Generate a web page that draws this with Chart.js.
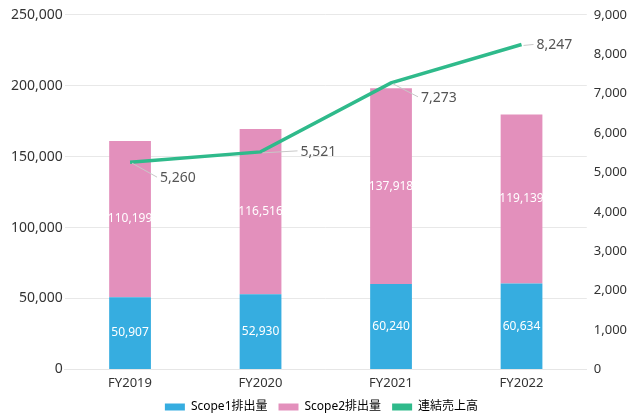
<!DOCTYPE html>
<html>
<head>
<meta charset="utf-8">
<script src="https://cdn.jsdelivr.net/npm/chart.js@4"></script>
<style>
  html, body { margin: 0; padding: 0; background: #fff; }
  #wrap { width: 634px; height: 419px; }
</style>
</head>
<body>
<div id="wrap"><canvas id="emiChart" width="634" height="419"></canvas></div>
<script>
var categories = ["FY2019", "FY2020", "FY2021", "FY2022"];
var scope1 = [50907, 52930, 60240, 60634];
var scope2 = [110199, 116516, 137918, 119139];
var sales = [5260, 5521, 7273, 8247];
var seriesNames = ["Scope1排出量", "Scope2排出量", "連結売上高"];

var FONT = "'Noto Sans', 'Noto Sans CJK JP', sans-serif";
// leader line end for the sales labels, relative to the point
var salesLabelOffset = [[27, 15], [37, -1], [27, 14], [12, 0]];

function fmt(v) { return v.toLocaleString("en-US"); }

// pull the legend a bit closer to the axis
var legendNudge = {
    id: "legendNudge",
    afterLayout: function (chart) {
        var lg = chart.legend;
        if (!lg) return;
        var dy = -7;
        lg.top += dy;
        lg.bottom += dy;
        if (lg.legendHitBoxes) {
            lg.legendHitBoxes.forEach(function (h) { h.top += dy; });
        }
    }
};

var valueLabels = {
    id: "valueLabels",
    afterDatasetsDraw: function (chart) {
        var ctx = chart.ctx;
        ctx.save();
        ctx.font = "12px " + FONT;
        ctx.fillStyle = "#ffffff";
        ctx.textAlign = "center";
        ctx.textBaseline = "middle";
        [0, 1].forEach(function (di) {
            var meta = chart.getDatasetMeta(di);
            meta.data.forEach(function (bar, i) {
                var y = (bar.y + bar.base) / 2;
                ctx.fillText(fmt(chart.data.datasets[di].data[i]), bar.x, y);
            });
        });
        // sales labels with leader lines
        var lm = chart.getDatasetMeta(2);
        ctx.font = "14px " + FONT;
        ctx.textAlign = "left";
        lm.data.forEach(function (pt, i) {
            var off = salesLabelOffset[i];
            var ex = pt.x + off[0], ey = pt.y + off[1];
            ctx.strokeStyle = "#c8c8c8";
            ctx.lineWidth = 1;
            ctx.beginPath();
            ctx.moveTo(pt.x + 2, pt.y + 1);
            ctx.lineTo(ex, ey);
            ctx.stroke();
            ctx.fillStyle = "#555555";
            ctx.fillText(fmt(sales[i]), ex + 3, ey + 1);
        });
        ctx.restore();
    }
};

new Chart(document.getElementById("emiChart"), {
    type: "bar",
    data: {
        labels: categories,
        datasets: [
            {
                label: seriesNames[0],
                data: scope1,
                backgroundColor: "#36ade0",
                yAxisID: "y",
                stack: "s",
                order: 2,
                categoryPercentage: 0.8,
                barPercentage: 0.4
            },
            {
                label: seriesNames[1],
                data: scope2,
                backgroundColor: "#e390bc",
                yAxisID: "y",
                stack: "s",
                order: 2,
                categoryPercentage: 0.8,
                barPercentage: 0.4
            },
            {
                type: "line",
                label: seriesNames[2],
                data: sales,
                borderColor: "#2fba8b",
                backgroundColor: "#2fba8b",
                borderWidth: 3.5,
                pointRadius: 0,
                tension: 0,
                yAxisID: "y1",
                order: 1
            }
        ]
    },
    options: {
        responsive: false,
        animation: false,
        layout: { padding: { left: 9, right: 0, top: 3, bottom: -11 } },
        scales: {
            x: {
                stacked: true,
                grid: { display: false, drawTicks: false },
                border: { color: "#e6e6e6" },
                ticks: { color: "#333", font: { size: 13, family: FONT }, padding: 6 }
            },
            y: {
                stacked: true,
                min: 0,
                max: 250000,
                ticks: {
                    stepSize: 50000,
                    color: "#333",
                    font: { size: 14, family: FONT },
                    padding: 2,
                    callback: function (v) { return fmt(v); }
                },
                grid: { color: "#e8e8e8", drawTicks: false },
                border: { display: false }
            },
            y1: {
                position: "right",
                min: 0,
                max: 9000,
                ticks: {
                    stepSize: 1000,
                    color: "#333",
                    font: { size: 13, family: FONT },
                    padding: 7,
                    callback: function (v) { return fmt(v); }
                },
                grid: { display: false, drawTicks: false },
                border: { display: false }
            }
        },
        plugins: {
            legend: {
                position: "bottom",
                labels: {
                    boxWidth: 20,
                    boxHeight: 7,
                    padding: 11,
                    color: "#333",
                    font: { size: 12, family: FONT },
                    generateLabels: function (chart) {
                        return chart.data.datasets.map(function (ds, i) {
                            return {
                                text: ds.label,
                                fillStyle: ds.backgroundColor,
                                strokeStyle: ds.backgroundColor,
                                lineWidth: 0,
                                hidden: false,
                                datasetIndex: i
                            };
                        });
                    }
                }
            },
            tooltip: { enabled: false }
        }
    },
    plugins: [valueLabels, legendNudge]
});
</script>
</body>
</html>
